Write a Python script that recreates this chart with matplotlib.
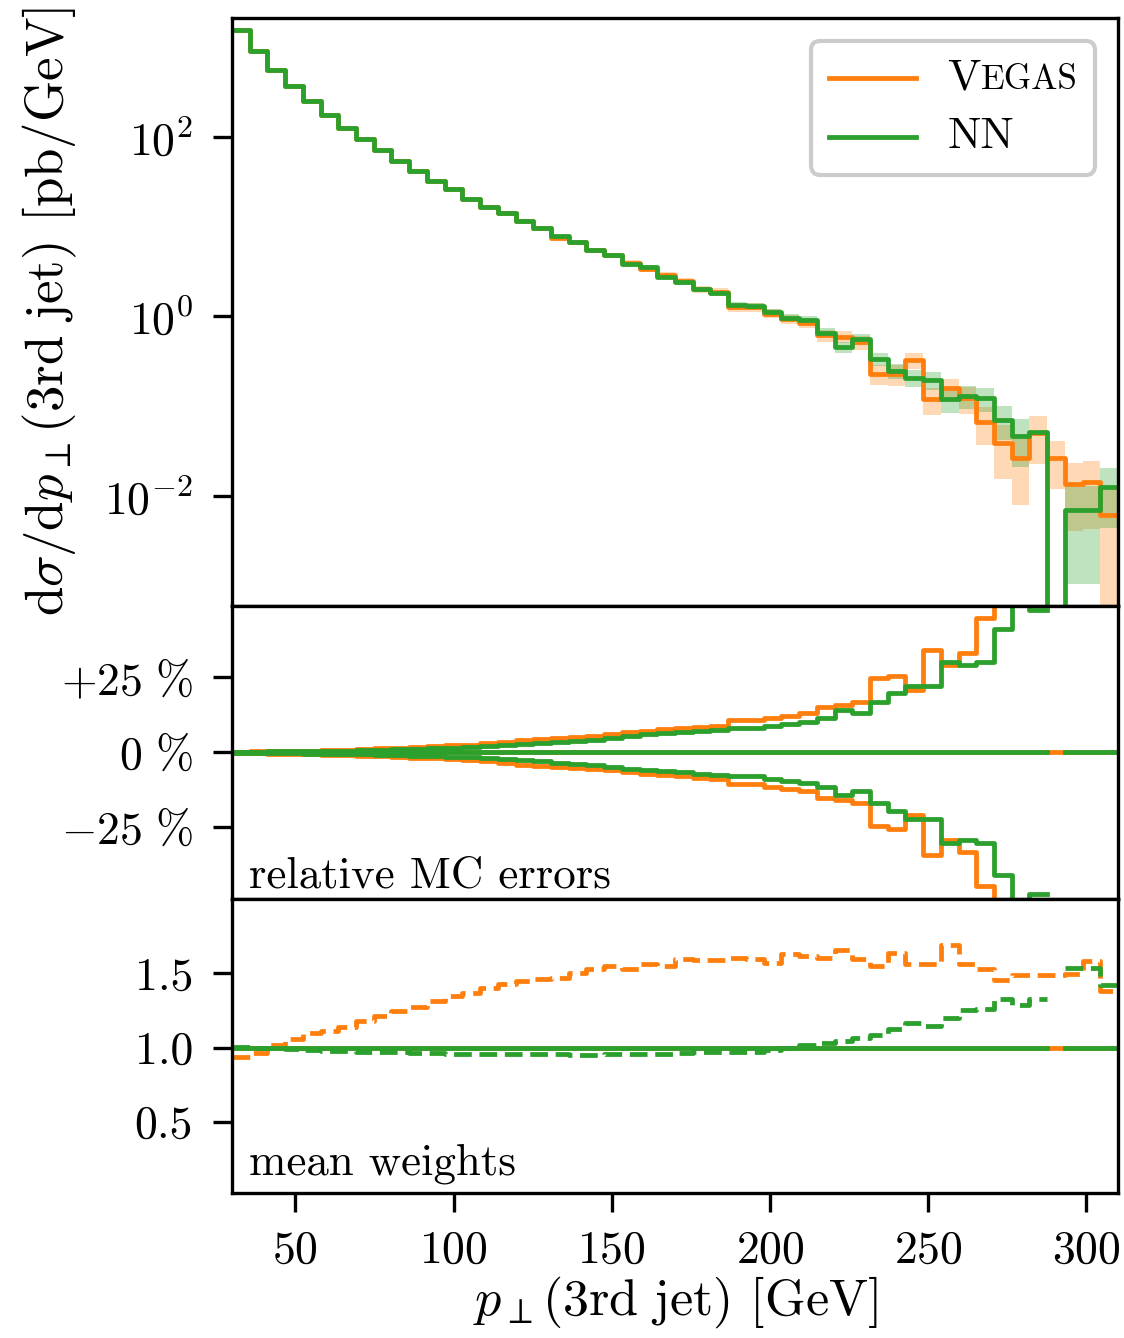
import numpy as np
import matplotlib
matplotlib.use("Agg")
import matplotlib.pyplot as plt
from matplotlib.lines import Line2D
from matplotlib.offsetbox import (AnchoredOffsetbox, DrawingArea, HPacker,
                                  TextArea, VPacker)

plt.rcParams.update({
    "font.family": "serif",
    "font.serif": ["cmr10"],
    "mathtext.fontset": "cm",
    "axes.formatter.use_mathtext": True,
    "font.size": 11,
    "xtick.major.size": 4.5,
    "ytick.major.size": 4.5,
    "xtick.major.pad": 4.5,
    "ytick.major.pad": 4.8,
})

# binning: 50 bins from 30 to 310 GeV
edges = np.linspace(30, 310, 51)

# differential cross section [pb/GeV]
xs_vegas = [1535, 896, 559, 366, 249, 174, 126, 93.3, 71.1, 53.7,
            41.6, 32.2, 25.9, 20.1, 16.3, 14.1, 11.6, 9.68, 7.5, 6.69,
            5.46, 4.76, 3.95, 3.35, 2.88, 2.5, 2.0, 1.88, 1.26, 1.26,
            1.07, 0.93, 0.85, 0.615, 0.594, 0.511, 0.227, 0.227, 0.327, 0.120,
            0.157, 0.122, 0.067, 0.0388, 0.0262, 0.05, 0.0262, 0.0136, 0.0142, 0.00615]
xs_nn = [1535, 896, 559, 366, 249, 174, 126, 93.3, 71.1, 53.7,
         41.6, 32.2, 25.9, 20.1, 16.3, 14.1, 11.6, 9.68, 7.8, 6.69,
         5.46, 4.76, 3.78, 3.53, 2.76, 2.40, 2.00, 1.80, 1.32, 1.30,
         1.12, 0.968, 0.91, 0.659, 0.456, 0.555, 0.333, 0.247, 0.208, 0.196,
         0.120, 0.130, 0.122, 0.0705, 0.046, 0.0518, 0.0, 0.00687, 0.00687, 0.0125]

# relative MC errors
err_vegas = [0.002, 0.003, 0.004, 0.005, 0.006, 0.008, 0.009, 0.011, 0.013, 0.015,
             0.018, 0.020, 0.023, 0.026, 0.030, 0.034, 0.041, 0.044, 0.049, 0.052,
             0.056, 0.060, 0.067, 0.071, 0.077, 0.080, 0.086, 0.089, 0.107, 0.107,
             0.116, 0.122, 0.130, 0.152, 0.158, 0.169, 0.247, 0.254, 0.208, 0.341,
             0.291, 0.332, 0.447, 0.60, 0.70, 0.55, 0.55, 0.70, 0.70, 0.95]
err_nn = [0.002, 0.002, 0.003, 0.003, 0.004, 0.005, 0.006, 0.007, 0.008, 0.010,
          0.011, 0.013, 0.015, 0.017, 0.020, 0.023, 0.027, 0.030, 0.036, 0.038,
          0.041, 0.049, 0.054, 0.060, 0.063, 0.067, 0.071, 0.074, 0.080, 0.080,
          0.089, 0.094, 0.102, 0.115, 0.141, 0.130, 0.169, 0.197, 0.222, 0.222,
          0.302, 0.293, 0.302, 0.410, 0.55, 0.474, np.nan, 0.85, 0.85, 0.65]

# mean weights
w_vegas = [0.937, 0.964, 1.02, 1.059, 1.099, 1.11, 1.14, 1.178, 1.21, 1.245,
           1.275, 1.313, 1.347, 1.369, 1.403, 1.426, 1.448, 1.459, 1.471, 1.505,
           1.532, 1.549, 1.532, 1.561, 1.549, 1.595, 1.59, 1.59, 1.606, 1.60,
           1.572, 1.628, 1.617, 1.606, 1.657, 1.595, 1.549, 1.635, 1.565, 1.565,
           1.689, 1.561, 1.527, 1.455, 1.486, 1.486, 1.486, 1.493, 1.583, 1.38]
w_nn = [1.005, 1.0, 0.995, 0.99, 0.985, 0.98, 0.975, 0.972, 0.97, 0.968,
        0.965, 0.962, 0.96, 0.958, 0.957, 0.956, 0.955, 0.954, 0.954, 0.953,
        0.953, 0.955, 0.955, 0.958, 0.96, 0.964, 0.968, 0.97, 0.968, 0.972,
        0.986, 0.998, 1.02, 1.032, 1.045, 1.065, 1.088, 1.126, 1.167, 1.144,
        1.2, 1.252, 1.257, 1.329, 1.284, 1.329, np.nan, 1.538, 1.538, 1.419]

series = [("Vegas", "tab:orange", xs_vegas, err_vegas, w_vegas),
          ("NN", "tab:green", xs_nn, err_nn, w_nn)]


def stepped(v):
    v = np.asarray(v, dtype=float)
    return np.append(v, v[-1])


fig, (ax1, ax2, ax3) = plt.subplots(
    3, 1, sharex=True, figsize=(1124 / 300, 1338 / 300), dpi=300,
    gridspec_kw=dict(height_ratios=[2, 1, 1], hspace=0))
fig.subplots_adjust(left=0.2064, right=0.9947, top=0.9865, bottom=0.1084)

lw = 1.15
for name, col, xs, err, w in series:
    xs = np.asarray(xs, dtype=float)
    err = np.asarray(err, dtype=float)
    ref = np.where(xs > 0, 1.0, np.nan)
    # top: cross section with MC error band
    ax1.fill_between(edges, stepped(xs * (1 - err)), stepped(xs * (1 + err)),
                     step="post", color=col, alpha=0.3, lw=0)
    ax1.plot(edges, stepped(xs), drawstyle="steps-post", color=col, lw=lw)
    # middle: relative MC errors
    ax2.plot(edges, stepped(ref - 1), drawstyle="steps-post", color=col, lw=lw)
    ax2.plot(edges, stepped(err), drawstyle="steps-post", color=col, lw=lw)
    ax2.plot(edges, stepped(-err), drawstyle="steps-post", color=col, lw=lw)
    # bottom: mean weights
    ax3.plot(edges, stepped(ref), drawstyle="steps-post", color=col, lw=lw)
    ax3.plot(edges, stepped(w), drawstyle="steps-post", color=col, lw=lw,
             ls="--")

ax1.set_yscale("log")
ax1.set_ylim(6e-4, 2.1e3)
ax1.set_yticks([1e-2, 1e0, 1e2])
ax1.minorticks_off()
ax1.set_ylabel(r"$\mathrm{d}\sigma/\mathrm{d}p_\perp(\mathrm{3rd\ jet})$ [pb/GeV]",
               fontsize=12.7, labelpad=6)

ax2.set_ylim(-0.49, 0.49)
ax2.set_yticks([-0.25, 0, 0.25])
ax2.set_yticklabels([r"$-25\ \%$", r"$0\ \%$", r"$+25\ \%$"])
ax2.text(0.019, 0.01, "relative MC errors", transform=ax2.transAxes,
         va="bottom", ha="left", fontsize=10.8)

ax3.set_ylim(0.02, 2.0)
ax3.set_yticks([0.5, 1.0, 1.5])
ax3.set_yticklabels(["0.5", "1.0", "1.5"])
ax3.text(0.019, 0.03, "mean weights", transform=ax3.transAxes,
         va="bottom", ha="left", fontsize=10.8)

ax3.set_xlim(30, 310)
ax3.set_xticks([50, 100, 150, 200, 250, 300])
ax3.set_xlabel(r"$p_\perp(\mathrm{3rd\ jet})$ [GeV]", fontsize=12.5, labelpad=0.5)

# legend, with small caps for Vegas
rows = []
for name, col, *_ in series:
    da = DrawingArea(21, 8)
    da.add_artist(Line2D([0, 21], [4, 4], color=col, lw=lw))
    if name == "Vegas":
        label = HPacker(children=[TextArea("V", textprops=dict(fontsize=10.7)),
                                  TextArea("EGAS", textprops=dict(fontsize=8.4))],
                        align="baseline", pad=0, sep=0)
    else:
        label = TextArea(name, textprops=dict(fontsize=10.7))
    rows.append(HPacker(children=[da, label], align="center", pad=0, sep=7.5))
box = AnchoredOffsetbox(loc="upper right",
                        child=VPacker(children=rows, pad=0, sep=4.5, align="left"),
                        pad=0.38, borderpad=0.5, frameon=True)
box.patch.set_boxstyle("round,pad=0,rounding_size=0.2")
box.patch.set_edgecolor("0.8")
box.patch.set_linewidth(1.0)
ax1.add_artist(box)

fig.savefig("out.png", dpi=300)
